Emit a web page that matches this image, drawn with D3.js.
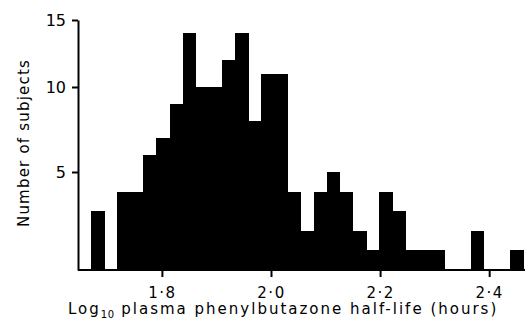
<!DOCTYPE html>
<meta charset="utf-8">
<style>
  body { margin: 0; background: #fff; }
  svg text { font-family: "DejaVu Sans", sans-serif; fill: #000; }
  .axis path, .axis line { stroke: #000; stroke-width: 2; }
  .bar { fill: #000; }
</style>
<body>
<svg id="chart" width="526" height="322"></svg>
<script src="https://d3js.org/d3.v7.min.js"></script>
<script>
// histogram of log10 half-life, equal-width bins
var binStart = 1.67;
var binWidth = 0.024;
var counts = [3, 0, 4, 4, 6, 7, 9, 14, 10, 10, 12, 14, 8, 11, 11,
              4, 2, 4, 5, 4, 2, 1, 4, 3, 1, 1, 1, 0, 0, 2, 0, 0, 1];
var xTicks = [1.8, 2.0, 2.2, 2.4];
var yTicks = [5, 10, 15];

var svg = d3.select("#chart");

var bins = counts.map(function (c, i) {
  return {x0: binStart + i * binWidth, x1: binStart + (i + 1) * binWidth, n: c};
});

var x = d3.scaleLinear()
  .domain([binStart, binStart + counts.length * binWidth])
  .range([91, 523]);

// the printed count axis is not evenly spaced, follow its ticks
var y = d3.scaleLinear()
  .domain([0, 5, 10, 15])
  .range([270, 172, 87, 20]);

svg.selectAll(".bar")
  .data(bins.filter(function (d) { return d.n > 0; }))
  .enter().append("rect")
  .attr("class", "bar")
  .attr("shape-rendering", "crispEdges")
  .attr("x", function (d) { return x(d.x0); })
  .attr("y", function (d) { return y(d.n); })
  .attr("width", function (d) { return x(d.x1) - x(d.x0) + 0.6; })
  .attr("height", function (d) { return y(0) - y(d.n); });

// baseline
svg.append("line")
  .attr("x1", 78).attr("x2", 525)
  .attr("y1", 270).attr("y2", 270)
  .attr("stroke", "#000").attr("stroke-width", 2);

var xAxis = svg.append("g")
  .attr("class", "axis")
  .attr("transform", "translate(0,270)")
  .call(d3.axisBottom(x)
    .tickValues(xTicks)
    .tickSize(7)
    .tickSizeOuter(0)
    .tickFormat(function (d) { return d.toFixed(1).replace(".", "\u00b7"); }));
xAxis.select(".domain").remove();
xAxis.selectAll("text")
  .attr("y", 17)
  .style("font-size", "15px")
  .style("letter-spacing", "1.5px");

var yAxis = svg.append("g")
  .attr("class", "axis")
  .attr("transform", "translate(78,0)")
  .call(d3.axisLeft(y)
    .tickValues(yTicks)
    .tickSize(6)
    .tickSizeOuter(0));
yAxis.selectAll("text")
  .attr("x", -12)
  .style("font-size", "16px");

// axis titles
var xt = svg.append("text")
  .attr("x", 68)
  .attr("y", 314)
  .style("font-size", "15px")
  .style("letter-spacing", "2px");
xt.append("tspan").text("Log");
xt.append("tspan").attr("dy", 4).style("font-size", "10px").style("letter-spacing", "0.5px").text("10");
xt.append("tspan").attr("dy", -4).text(" plasma phenylbutazone half-life (hours)");

svg.append("text")
  .attr("transform", "translate(29,143) rotate(-90)")
  .attr("text-anchor", "middle")
  .style("font-size", "15px")
  .style("letter-spacing", "1.2px")
  .text("Number of subjects");
</script>
</body>
